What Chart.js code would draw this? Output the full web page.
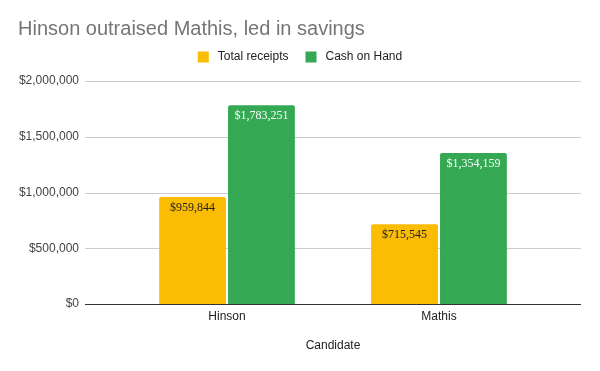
<!DOCTYPE html>
<html>
<head>
<meta charset="utf-8">
<script src="https://cdn.jsdelivr.net/npm/chart.js@4"></script>
<style>
  html, body { margin: 0; padding: 0; background: #fff; }
  #wrap { width: 600px; height: 371px; }
</style>
</head>
<body>
<div id="wrap"><canvas id="fundChart"></canvas></div>
<script>
const candidates = ["Hinson", "Mathis"];
const totalReceipts = [959844, 715545];
const cashOnHand = [1783251, 1354159];
const seriesNames = ["Total receipts", "Cash on Hand"];
const yTicks = [0, 500000, 1000000, 1500000, 2000000];

const chartTitle = "Hinson outraised Mathis, led in savings";
const fontSans = "Arial, 'Liberation Sans', sans-serif";
const fontSerif = "'Times New Roman', 'Liberation Serif', serif";

function money(v) {
  return "$" + Math.round(v).toLocaleString("en-US");
}

// title and legend, drawn by hand so they sit where the original has them
const headerPlugin = {
  id: "header",
  afterDraw(chart) {
    const ctx = chart.ctx;
    ctx.save();
    ctx.fillStyle = "#757575";
    ctx.font = "20px " + fontSans;
    ctx.textAlign = "left";
    ctx.textBaseline = "alphabetic";
    ctx.fillText(chartTitle, 18, 35);

    ctx.font = "12px " + fontSans;
    const box = 11, gapText = 9, gapItem = 17;
    const items = chart.data.datasets.map(ds => ({
      label: ds.label, color: ds.backgroundColor, w: ctx.measureText(ds.label).width
    }));
    let total = 0;
    items.forEach((it, i) => { total += box + gapText + it.w + (i ? gapItem : 0); });
    let x = 300 - total / 2;
    const cy = 57;
    items.forEach((it, i) => {
      if (i) x += gapItem;
      ctx.fillStyle = it.color;
      ctx.fillRect(x, cy - box / 2, box, box);
      x += box + gapText;
      ctx.fillStyle = "#222";
      ctx.textBaseline = "middle";
      ctx.fillText(it.label, x, cy);
      x += it.w;
    });
    ctx.restore();
  }
};

// gridlines run wider than the category area, like the original
const gridPlugin = {
  id: "wideGrid",
  beforeDatasetsDraw(chart) {
    const ctx = chart.ctx, y = chart.scales.y;
    ctx.save();
    ctx.lineWidth = 1;
    ctx.strokeStyle = "#cccccc";
    y.ticks.forEach(t => {
      if (t.value === 0) return;
      const py = Math.round(y.getPixelForValue(t.value)) + 0.5;
      ctx.beginPath();
      ctx.moveTo(85, py);
      ctx.lineTo(581, py);
      ctx.stroke();
    });
    ctx.restore();
  },
  afterDatasetsDraw(chart) {
    const ctx = chart.ctx, y = chart.scales.y;
    const py = Math.round(y.getPixelForValue(0)) + 0.5;
    ctx.save();
    ctx.strokeStyle = "#333333";
    ctx.lineWidth = 1;
    ctx.beginPath();
    ctx.moveTo(85, py);
    ctx.lineTo(581, py);
    ctx.stroke();

    // value labels inside the top of each bar
    ctx.font = "12px " + fontSerif;
    ctx.textAlign = "center";
    ctx.textBaseline = "middle";
    chart.data.datasets.forEach((ds, di) => {
      const meta = chart.getDatasetMeta(di);
      meta.data.forEach((bar, i) => {
        ctx.fillStyle = ds.labelColor;
        ctx.fillText(money(ds.data[i]), bar.x, bar.y + 11);
      });
    });
    ctx.restore();
  }
};

new Chart(document.getElementById("fundChart"), {
  type: "bar",
  data: {
    labels: candidates,
    datasets: [
      {
        label: seriesNames[0],
        data: totalReceipts,
        backgroundColor: "#fbbc04",
        labelColor: "#222222",
        borderRadius: 2,
        categoryPercentage: 0.65,
        barPercentage: 0.97
      },
      {
        label: seriesNames[1],
        data: cashOnHand,
        backgroundColor: "#34a853",
        labelColor: "#ffffff",
        borderRadius: 2,
        categoryPercentage: 0.65,
        barPercentage: 0.97
      }
    ]
  },
  options: {
    responsive: true,
    maintainAspectRatio: false,
    animation: false,
    layout: { padding: { top: 81, right: 55, left: 0, bottom: 0 } },
    plugins: {
      legend: { display: false },
      title: { display: false },
      tooltip: { enabled: false }
    },
    scales: {
      x: {
        grid: { display: false, drawTicks: false },
        border: { display: false },
        ticks: { color: "#222", font: { size: 12, family: fontSans }, padding: 5 },
        title: {
          display: true,
          text: "Candidate",
          color: "#222",
          font: { size: 12, family: fontSans },
          padding: { top: 4, bottom: 18 }
        },
        afterFit(scale) { scale.height = 67; }
      },
      y: {
        min: 0,
        max: 2000000,
        afterBuildTicks(scale) { scale.ticks = yTicks.map(v => ({ value: v })); },
        grid: { display: false, drawTicks: false },
        border: { display: false },
        ticks: {
          color: "#444",
          font: { size: 12, family: fontSans },
          padding: 42,
          callback: v => money(v)
        },
        afterFit(scale) { scale.width = 121; }
      }
    }
  },
  plugins: [headerPlugin, gridPlugin]
});
</script>
</body>
</html>
